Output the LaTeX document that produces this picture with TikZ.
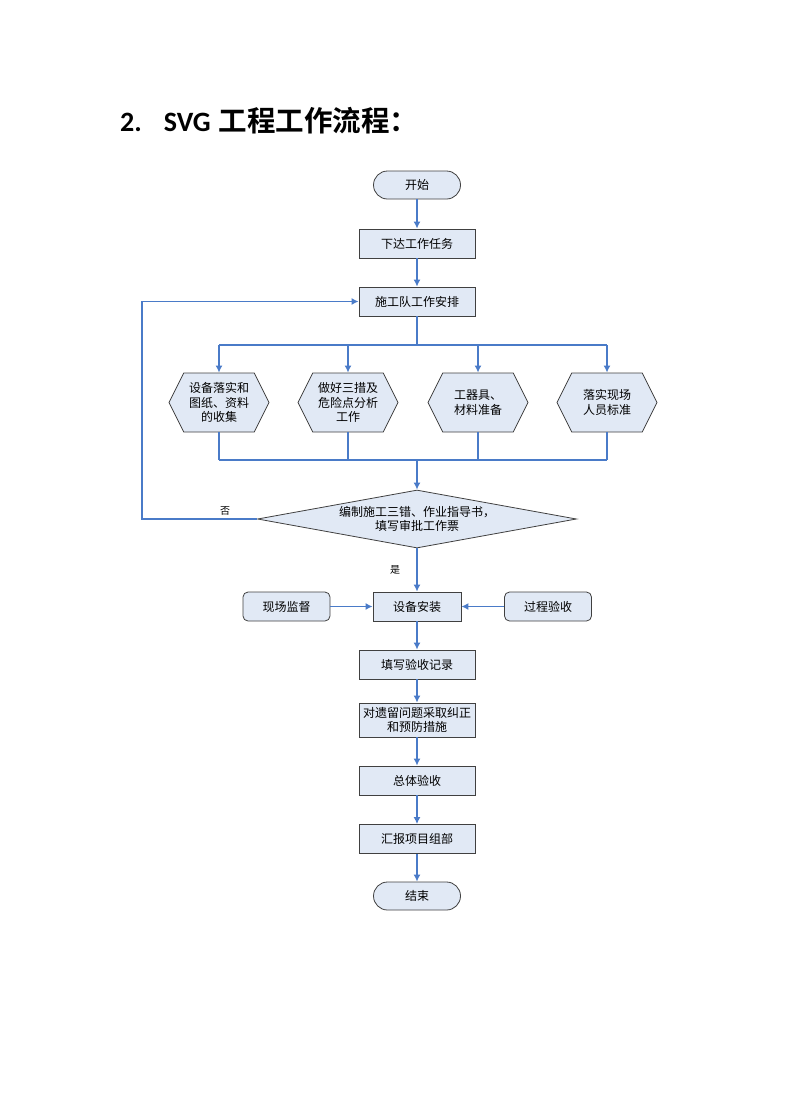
\documentclass[tikz,border=0pt]{standalone}
\usepackage{fontspec}
\setmainfont{Noto Sans CJK SC}
\newfontfamily\titlefont{Noto Sans CJK SC}[BoldFont={* Bold}]
\newfontfamily\latinfont{Carlito}
\usetikzlibrary{arrows.meta,shapes.geometric,shapes.symbols,positioning}

\definecolor{boxfill}{HTML}{E1E9F5}
\definecolor{flowline}{HTML}{4A7BC8}
\definecolor{boxline}{HTML}{404040}

\begin{document}
\begin{tikzpicture}[x=1pt,y=-1pt,
  base/.style={draw=boxline, fill=boxfill, line width=0.8pt, font=\fontsize{12}{14.5}\selectfont, align=center, inner sep=0pt},
  task/.style={base, rectangle, minimum width=116pt, minimum height=29pt},
  smallbox/.style={base, rectangle, minimum width=88pt, minimum height=29pt},
  sidebox/.style={base, rectangle, rounded corners=5pt, minimum width=87pt, minimum height=29pt},
  termbox/.style={base, rectangle, rounded corners=14pt, minimum width=87pt, minimum height=28pt},
  hexbox/.style={base, signal, signal to=west and east, signal pointer angle=127, minimum width=100pt, minimum height=59pt},
  checkbox/.style={base, diamond, aspect=5.5, minimum width=319pt, minimum height=58pt},
  flow/.style={draw=flowline, line width=1.6pt},
  arr/.style={flow, -{Latex[length=7pt,width=7pt]}},
  note/.style={font=\fontsize{10}{12}\selectfont}]
  \useasboundingbox (0,0) rectangle (792,1120);

  % title
  \node[anchor=base west, inner sep=0pt, font=\titlefont\bfseries\fontsize{28.5}{30}\selectfont] (title) at (120,131)
    {{\latinfont\bfseries\fontsize{28}{30}\selectfont 2.}\hspace{22pt}{\latinfont\bfseries\fontsize{28}{30}\selectfont SVG}\hspace{8pt}工程工作流程：};

  % main column
  \node[termbox] (start) at (417,185) {开始};
  \node[task] (issue) at (417,243.5) {下达工作任务};
  \node[task] (arrange) at (417,301.5) {施工队工作安排};

  % preparations
  \node[hexbox] (h1) at (219,402.5) {设备落实和\\图纸、资料\\的收集};
  \node[hexbox] (h2) at (348,402.5) {做好三措及\\危险点分析\\工作};
  \node[hexbox] (h3) at (478,402.5) {工器具、\\材料准备};
  \node[hexbox] (h4) at (607,402.5) {落实现场\\人员标准};

  \node[checkbox] (check) at (417,519) {编制施工三错、作业指导书，\\填写审批工作票};

  \node[smallbox] (install) at (417,606.5) {设备安装};
  \node[sidebox] (watch) at (286.5,606.5) {现场监督};
  \node[sidebox] (midcheck) at (548,606.5) {过程验收};

  \node[task] (record) at (417,664.5) {填写验收记录};
  \node[task, minimum height=34pt] (fix) at (417,720) {对遗留问题采取纠正\\和预防措施};
  \node[task] (final) at (417,780.5) {总体验收};
  \node[task] (report) at (417,839) {汇报项目组部};
  \node[termbox] (stop) at (417,896) {结束};

  \coordinate (split) at (417,345);
  \coordinate (join) at (417,460);
  \coordinate (loop) at (142,519);

  % connectors
  \draw[arr] (start) -- (issue);
  \draw[arr] (issue) -- (arrange);
  \draw[flow] (arrange.south) -- (split);
  \draw[flow] (h1 |- split) -- (h4 |- split);
  \draw[flow] (h1 |- join) -- (h4 |- join);
  \foreach \i in {1,...,4} {
    \draw[arr] (h\i |- split) -- (h\i.north);
    \draw[flow] (h\i.south) -- (h\i |- join);
  }
  \draw[arr] (join) -- (check.north);
  \draw[arr] (check.west) -- (loop) |- (arrange.west);
  \node[note] (no) at (225,511) {否};
  \draw[arr] (check.south) -- (install.north);
  \node[note] (yes) at (395,570) {是};
  \draw[arr] (watch) -- (install);
  \draw[arr] (midcheck) -- (install);
  \draw[arr] (install) -- (record);
  \draw[arr] (record) -- (fix);
  \draw[arr] (fix) -- (final);
  \draw[arr] (final) -- (report);
  \draw[arr] (report) -- (stop);
\end{tikzpicture}
\end{document}
